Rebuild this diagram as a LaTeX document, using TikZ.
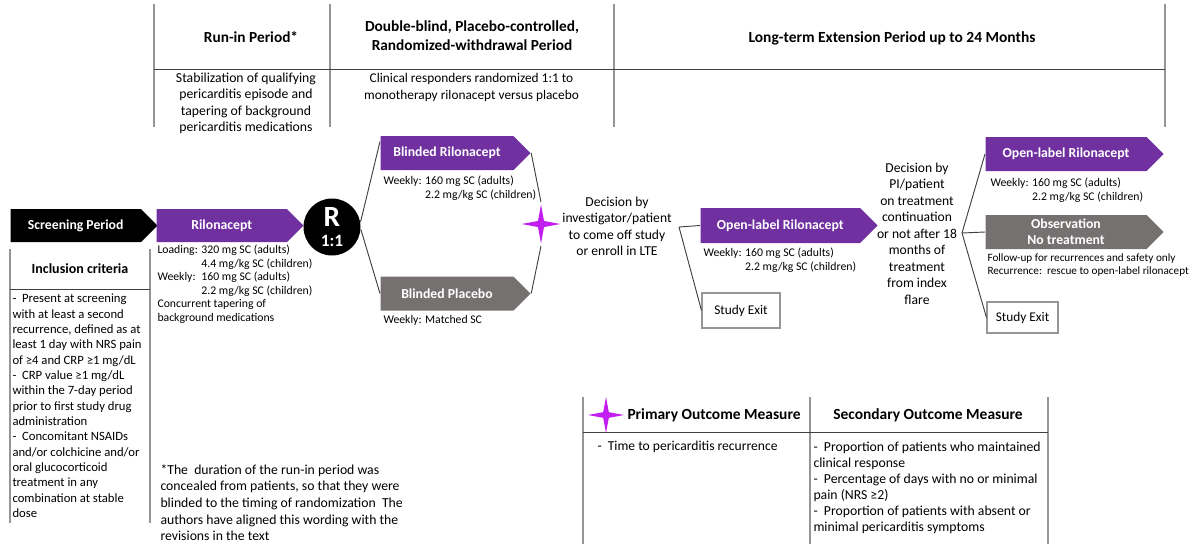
\documentclass[tikz,border=0pt]{standalone}
\usepackage{fontspec}
\setmainfont{Carlito}
\usetikzlibrary{shapes.symbols,shapes.geometric,positioning,calc}
\definecolor{trialpurple}{RGB}{112,48,160}
\definecolor{trialgray}{RGB}{118,113,113}
\definecolor{starviolet}{RGB}{195,30,240}
\definecolor{rulegray}{RGB}{150,150,150}
\definecolor{linkgray}{RGB}{64,64,64}
\tikzset{
  every picture/.style={line width=0.75pt},
  armbox/.style={signal, signal to=east, signal pointer angle=90, text=white, anchor=west,
                 font=\fontsize{10.3}{12}\selectfont\bfseries, inner sep=0pt, align=center},
  purplearm/.style={armbox, fill=trialpurple},
  grayarm/.style={armbox, fill=trialgray},
  blackarm/.style={armbox, fill=black},
  exitbox/.style={draw=rulegray, line width=0.8pt, inner sep=0pt, font=\fontsize{10}{12}\selectfont},
  dosetext/.style={font=\fontsize{8.8}{10.1}\selectfont, inner sep=0pt, anchor=north west, align=left},
  bodytext/.style={font=\fontsize{10.2}{12.4}\selectfont, inner sep=0pt, align=center},
  notetext/.style={bodytext, anchor=north west, align=left},
  headtext/.style={font=\fontsize{11.5}{14.5}\selectfont\bfseries, inner sep=0pt, align=center},
  colrule/.style={rulegray, line width=1.1pt},
  rowrule/.style={linkgray, line width=0.75pt},
  link/.style={linkgray, line width=0.7pt},
  sparkle/.style={star, star points=4, star point ratio=4.5, fill=starviolet,
                  inner sep=0pt, minimum size=29pt},
}
\newcommand{\dosepair}[2]{\begin{tabular}{@{}l@{ }l@{}}Weekly: & #1\\ & #2\end{tabular}}

\begin{document}
\begin{tikzpicture}[x=0.75pt,y=-0.75pt]
  \useasboundingbox (0,0) rectangle (1196,544);
  % period table
  \foreach \xx in {154,330,614,1165}
    \draw[colrule] (\xx,4) -- (\xx,127);
  \draw[rowrule] (154,69.5) -- (1165,69.5);
  \node[headtext] (runinhead) at (251,37) {Run-in Period*};
  \node[headtext] (dbhead) at (472,36) {Double-blind, Placebo-controlled,\\Randomized-withdrawal Period};
  \node[headtext, font=\fontsize{11.6}{14.5}\selectfont\bfseries] (ltehead) at (892,38) {Long-term Extension Period up to 24 Months};
  \node[bodytext, font=\fontsize{10.3}{12.3}\selectfont] (runinsub) at (246,103.5)
        {Stabilization of qualifying\\pericarditis episode and\\tapering of background\\pericarditis medications};
  \node[bodytext, font=\fontsize{10}{12.3}\selectfont] (dbsub) at (471.5,87.5)
        {Clinical responders randomized 1:1 to\\monotherapy rilonacept versus placebo};

  % run-in arms
  \node[blackarm, minimum width=110.25pt, minimum height=24.75pt] (screen) at (10,225.5) {Screening Period};
  \node[purplearm, minimum width=110.25pt, minimum height=24.75pt] (rilo) at (156,225.5) {Rilonacept};
  \node[dosetext] (rilodose) at (157,244)
        {\begin{tabular}{@{}l@{ }l@{}}Loading: & 320 mg SC (adults)\\ & 4.4 mg/kg SC (children)\\
         Weekly: & 160 mg SC (adults)\\ & 2.2 mg/kg SC (children)\\
         \multicolumn{2}{@{}l@{}}{Concurrent tapering of}\\
         \multicolumn{2}{@{}l@{}}{background medications}\end{tabular}};
  \node[circle, fill=black, text=white, inner sep=0pt, minimum size=42.75pt, align=center,
        font=\bfseries] (R) at (332,227)
        {{\fontsize{22}{20}\selectfont R}\\[3pt]{\fontsize{13}{13}\selectfont 1:1}};

  % inclusion criteria
  \draw[colrule] (10,249) -- (10,523);
  \draw[colrule] (150,249) -- (150,523);
  \draw[rowrule] (10,289) -- (150,289);
  \node[headtext, font=\fontsize{10.5}{13}\selectfont\bfseries] (inchead) at (80,269) {Inclusion criteria};
  \node[notetext, font=\fontsize{9.5}{11.5}\selectfont] (incbody) at (12,293.5)
        {-\ \ Present at screening\\with at least a second\\recurrence, defined as at\\least 1 day with NRS pain\\of ≥4 and CRP ≥1 mg/dL\\
         -\ \ CRP value ≥1 mg/dL\\within the 7-day period\\prior to first study drug\\administration\\
         -\ \ Concomitant NSAIDs\\and/or colchicine and/or\\oral glucocorticoid\\treatment in any\\combination at stable\\dose};
  \node[notetext, font=\fontsize{10.3}{12.45}\selectfont] (footnote) at (160,464)
        {*The\ \ duration of the run-in period was\\concealed from patients, so that they were\\blinded to the timing of randomization\ \ The\\authors have aligned this wording with the\\revisions in the text};

  % randomized withdrawal
  \node[purplearm, minimum width=112.5pt, minimum height=25.5pt] (brilo) at (380,153) {Blinded Rilonacept};
  \node[dosetext] (brilodose) at (383,175) {\dosepair{160 mg SC (adults)}{2.2 mg/kg SC (children)}};
  \node[grayarm, minimum width=112.5pt, minimum height=25.5pt] (bplac) at (380,293.5) {Blinded Placebo};
  \node[dosetext] (bplacdose) at (383,315) {Weekly: Matched SC};
  \node[sparkle] (endpoint) at (541,224) {};
  \draw[link] (R.10) -- ([yshift=-4.5pt]brilo.north west);
  \draw[link] (R.-5) -- (bplac.west);
  \draw[link] (brilo.east) -- (endpoint.north);
  \draw[link] (bplac.east) -- (endpoint.south);
  \node[bodytext] (decide1) at (617,226.5)
        {Decision by\\investigator/patient\\to come off study\\or enroll in LTE};

  % long-term extension
  \coordinate (j1) at (679,227);
  \node[purplearm, minimum width=132.75pt, minimum height=26.25pt] (olrilo) at (700,225.5) {Open-label Rilonacept};
  \node[dosetext] (olrilodose) at (703,247) {\dosepair{160 mg SC (adults)}{2.2 mg/kg SC (children)}};
  \node[exitbox, minimum width=58.5pt, minimum height=26.25pt] (exit1) at (741,310.5) {Study Exit};
  \draw[link] (j1) -- (olrilo.west);
  \draw[link] (j1) -- (exit1.west);
  \node[bodytext] (decide2) at (917,233.5)
        {Decision by\\PI/patient\\on treatment\\continuation\\or not after 18\\months of\\treatment\\from index\\flare};
  \coordinate (j2) at (962,233);
  \node[purplearm, minimum width=133.5pt, minimum height=25.5pt] (olrilo2) at (985,154) {Open-label Rilonacept};
  \node[dosetext] (olrilo2dose) at (990,177) {\dosepair{160 mg SC (adults)}{2.2 mg/kg SC (children)}};
  \node[grayarm, minimum width=133.5pt, minimum height=25.5pt] (obs) at (985,232) {Observation\\No treatment};
  \node[dosetext, font=\fontsize{8.4}{10.1}\selectfont] (obsnote) at (987,253)
        {Follow-up for recurrences and safety only\\Recurrence:\ \ rescue to open-label rilonacept};
  \node[exitbox, minimum width=53.25pt, minimum height=23.25pt] (exit2) at (1022.5,317.5) {Study Exit};
  \draw[link] (j2) -- (olrilo2.west);
  \draw[link] (j2) -- (obs.west);
  \draw[link] (j2) -- (exit2.west);

  % outcome table
  \foreach \xx in {583,810,1048}
    \draw[colrule] (\xx,397) -- (\xx,544);
  \draw[rowrule] (583,432) -- (1048,432);
  \node[sparkle, minimum size=27pt] (keystar) at (606,415) {};
  \node[headtext, anchor=west, font=\fontsize{11.6}{14}\selectfont\bfseries] (primhead) at (627,415) {Primary Outcome Measure};
  \node[headtext, font=\fontsize{11.6}{14}\selectfont\bfseries] (sechead) at (928,415) {Secondary Outcome Measure};
  \node[notetext] (primbody) at (597,441) {-\ \ Time to pericarditis recurrence};
  \node[notetext, font=\fontsize{10.3}{12}\selectfont] (secbody) at (813,441)
        {-\ \ Proportion of patients who maintained\\clinical response\\-\ \ Percentage of days with no or minimal\\pain (NRS ≥2)\\
         -\ \ Proportion of patients with absent or\\minimal pericarditis symptoms};
\end{tikzpicture}
\end{document}
